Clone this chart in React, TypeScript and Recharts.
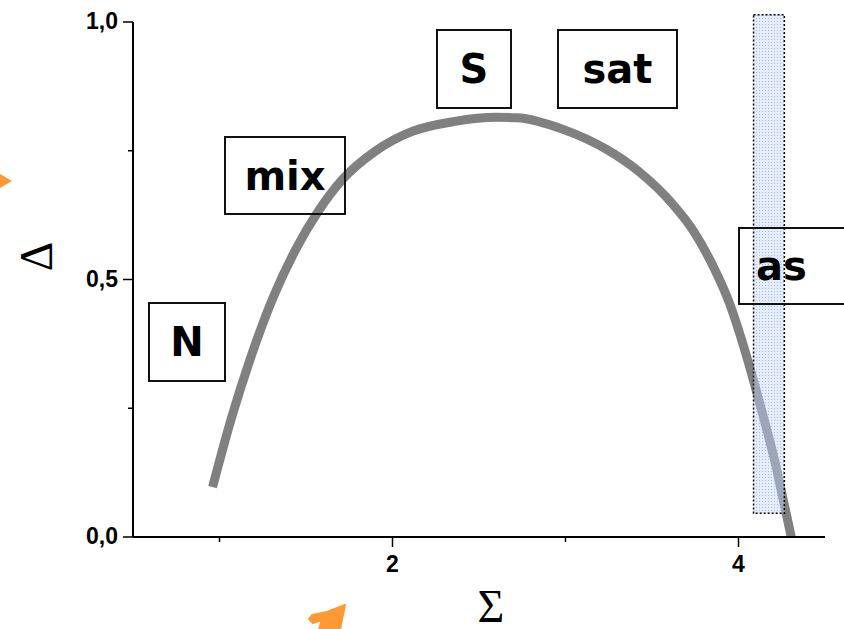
import React from "react";
import { LineChart, Line, XAxis, YAxis, ReferenceArea } from "recharts";

// phase boundary Δ(Σ)
const sigma = [
  0.96, 1.07, 1.18, 1.31, 1.44, 1.57, 1.71, 1.9, 2.11, 2.36, 2.6, 2.72, 2.99,
  3.24, 3.43, 3.61, 3.74, 3.85, 3.95, 4.03, 4.09, 4.14, 4.21, 4.26, 4.305,
];
const delta = [
  0.097, 0.232, 0.348, 0.465, 0.558, 0.632, 0.694, 0.749, 0.787, 0.807, 0.815,
  0.814, 0.791, 0.752, 0.708, 0.65, 0.594, 0.528, 0.452, 0.37, 0.3, 0.238,
  0.147, 0.07, 0.0,
];

// shaded asymptotic band
const bandSigma = [4.087, 4.265];
const bandDelta = [0.046, 1.014];

const xTicks = [1, 2, 3, 4];
const xLabelled = [2, 4];
const yTicks = [0, 0.25, 0.5, 0.75, 1];
const yLabelled = [0, 0.5, 1];

const regionLabels = ["N", "mix", "S", "sat", "as"];

const data = sigma.map((s, i) => ({ s, d: delta[i] }));

const W = 844;
const H = 629;
const tickStyle: React.CSSProperties = {
  fontFamily: "'Liberation Sans', Arial, sans-serif",
  fontWeight: "bold",
  fontSize: 23,
  fill: "#000",
};
const serif = "'Liberation Serif', 'Times New Roman', serif";

function XTick({ x, y, payload }: any) {
  const major = xLabelled.includes(payload.value);
  return (
    <g>
      <line x1={x} x2={x} y1={y} y2={y + (major ? 10 : 5)} stroke="#000" strokeWidth={1.5} />
      {major && (
        <text x={x} y={y + 35} textAnchor="middle" style={tickStyle}>
          {payload.value}
        </text>
      )}
    </g>
  );
}

function YTick({ x, y, payload }: any) {
  const major = yLabelled.includes(payload.value);
  return (
    <g>
      <line x1={x - (major ? 10 : 5)} x2={x} y1={y} y2={y} stroke="#000" strokeWidth={1.5} />
      {major && (
        <text x={x - 15} y={y + 7} textAnchor="end" style={tickStyle}>
          {payload.value.toFixed(1).replace(".", ",")}
        </text>
      )}
    </g>
  );
}

const boxStyle: React.CSSProperties = {
  position: "absolute",
  border: "2px solid #111",
  boxSizing: "border-box",
  display: "flex",
  alignItems: "center",
  justifyContent: "center",
  fontFamily: "'DejaVu Sans', sans-serif",
  fontWeight: "bold",
  fontSize: 40,
  color: "#000",
  lineHeight: 1,
};

const boxes = [
  { left: 148, top: 302, width: 78, height: 80 },
  { left: 224, top: 136, width: 122, height: 79 },
  { left: 436, top: 29, width: 76, height: 80 },
  { left: 557, top: 29, width: 121, height: 80 },
  { left: 738, top: 227, width: 130, height: 78, justifyContent: "flex-start", paddingLeft: 16 },
];

export default function App() {
  return (
    <div style={{ position: "absolute", left: 0, top: 0, width: W, height: H, overflow: "hidden", background: "#fff" }}>
      {/* dotted fill for the band */}
      <svg width={0} height={0} style={{ position: "absolute" }}>
        <defs>
          <pattern id="bandDots" width={3} height={3} patternUnits="userSpaceOnUse">
            <rect width={3} height={3} fill="#c6d8fb" fillOpacity={0.45} />
            <rect width={1} height={1} fill="#6f95ea" fillOpacity={0.55} />
          </pattern>
        </defs>
      </svg>

      <LineChart width={W} height={H} data={data} margin={{ top: 22, right: 19, left: 0, bottom: 0 }}>
        <XAxis
          dataKey="s"
          type="number"
          domain={[0.5, 4.5]}
          ticks={xTicks}
          height={92}
          stroke="#000"
          strokeWidth={2}
          tickLine={false}
          tickSize={0}
          tickMargin={0}
          tick={<XTick />}
          interval={0}
          label={{
            content: ({ viewBox }: any) => (
              <text
                x={viewBox.x + viewBox.width / 2 + 12}
                y={viewBox.y + viewBox.height - 7}
                textAnchor="middle"
                style={{ fontFamily: serif, fontSize: 46, fill: "#000" }}
              >
                Σ
              </text>
            ),
          }}
        />
        <YAxis
          type="number"
          domain={[0, 1]}
          ticks={yTicks}
          width={133}
          stroke="#000"
          strokeWidth={2}
          tickLine={false}
          tickSize={0}
          tickMargin={0}
          tick={<YTick />}
          interval={0}
          label={{
            content: ({ viewBox }: any) => {
              const cx = viewBox.x + 36;
              const cy = viewBox.y + viewBox.height / 2 - 23;
              return (
                <text
                  x={cx}
                  y={cy}
                  transform={`rotate(-90 ${cx} ${cy})`}
                  textAnchor="middle"
                  dominantBaseline="central"
                  style={{ fontFamily: serif, fontSize: 46, fill: "#000" }}
                >
                  Δ
                </text>
              );
            },
          }}
        />
        <Line
          type="monotone"
          dataKey="d"
          stroke="#808080"
          strokeWidth={9}
          dot={false}
          activeDot={false}
          isAnimationActive={false}
        />
        <ReferenceArea
          x1={bandSigma[0]}
          x2={bandSigma[1]}
          y1={bandDelta[0]}
          y2={bandDelta[1]}
          ifOverflow="visible"
          fill="url(#bandDots)"
          fillOpacity={1}
          stroke="#000"
          strokeWidth={1.5}
          strokeDasharray="2 2"
          zIndex={600}
        />
      </LineChart>

      {regionLabels.map((t, i) => {
        const { left, top, width, height, ...rest } = boxes[i] as any;
        return (
          <div key={t} style={{ ...boxStyle, left, top, width, height, ...rest }}>
            {t}
          </div>
        );
      })}

      {/* orange pointer fragments */}
      <svg width={W} height={H} style={{ position: "absolute", left: 0, top: 0, pointerEvents: "none" }}>
        <polygon points="0,174 12,181 0,188" fill="#ff9933" />
        <polygon
          points="345,605 327,612 312,615 309,619 313,623 322,620 319,629 340,629"
          fill="#ff9933"
          stroke="#ff9933"
          strokeWidth={2}
          strokeLinejoin="round"
        />
      </svg>
    </div>
  );
}
